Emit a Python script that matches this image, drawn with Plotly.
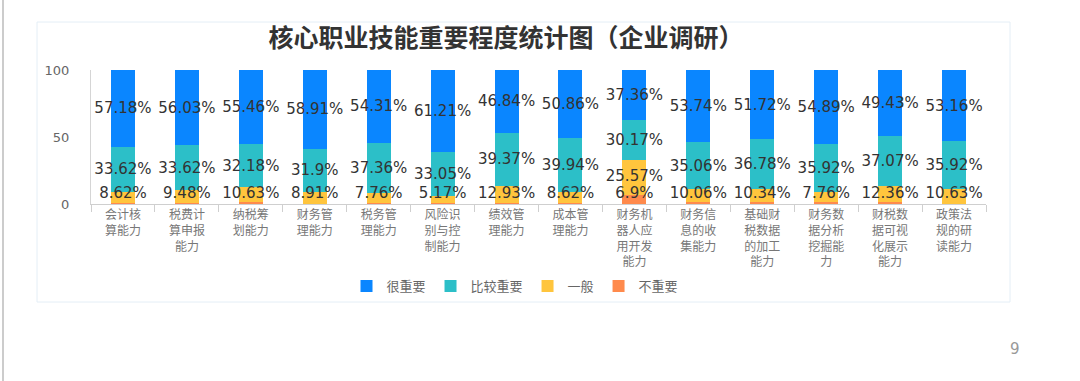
import plotly.graph_objects as go

# ---------------- data ----------------
categories = [
    "会计核算能力", "税费计算申报能力", "纳税筹划能力", "财务管理能力", "税务管理能力",
    "风险识别与控制能力", "绩效管理能力", "成本管理能力", "财务机器人应用开发能力",
    "财务信息的收集能力", "基础财税数据的加工能力", "财务数据分析挖掘能力",
    "财税数据可视化展示能力", "政策法规的研读能力",
]
very_important = [57.18, 56.03, 55.46, 58.91, 54.31, 61.21, 46.84, 50.86, 37.36, 53.74, 51.72, 54.89, 49.43, 53.16]
fairly_important = [33.62, 33.62, 32.18, 31.9, 37.36, 33.05, 39.37, 39.94, 30.17, 35.06, 36.78, 35.92, 37.07, 35.92]
average = [8.62, 9.48, 10.63, 8.91, 7.76, 5.17, 12.93, 8.62, 25.57, 10.06, 10.34, 7.76, 12.36, 10.63]
not_important = [round(100 - a - b - c, 2) for a, b, c in zip(very_important, fairly_important, average)]

series_names = ["很重要", "比较重要", "一般", "不重要"]
colors = ["#0A86FF", "#2CBFC8", "#FFC53D", "#FF8A4C"]
y_ticks = [0, 50, 100]


def wrap(s, n=3):
    return "<br>".join(s[i:i + n] for i in range(0, len(s), n))


x_labels = [wrap(c) for c in categories]


def fmt(v):
    return f"{v:g}%"


label_font = dict(family="DejaVu Sans", size=15, color="#333")

fig = go.Figure()
# stacking order bottom -> top
stack = [
    (series_names[3], not_important, colors[3], None),
    (series_names[2], average, colors[2], None),
    (series_names[1], fairly_important, colors[1], [fmt(v) for v in fairly_important]),
    (series_names[0], very_important, colors[0], [fmt(v) for v in very_important]),
]
for name, vals, col, txt in stack:
    fig.add_trace(go.Bar(
        x=x_labels, y=vals, name=name, marker=dict(color=col, line=dict(width=0)),
        text=txt, textposition="inside" if txt else "none", insidetextanchor="middle",
        textangle=0, constraintext="none", textfont=label_font,
        hoverinfo="skip",
    ))

# labels of the thin bottom segments, kept just above the axis line
MIN_LABEL_Y = 7
bottom_labels = []
for i in range(len(categories)):
    o, a = not_important[i], average[i]
    bottom_labels.append((i, max(o + a / 2, MIN_LABEL_Y), fmt(a)))
    if o >= 5:
        bottom_labels.append((i, max(o / 2, MIN_LABEL_Y), fmt(o)))
fig.add_trace(go.Scatter(
    x=[x_labels[i] for i, _, _ in bottom_labels],
    y=[y for _, y, _ in bottom_labels],
    text=[t for _, _, t in bottom_labels],
    mode="text", textposition="middle center", textfont=label_font,
    showlegend=False, hoverinfo="skip", cliponaxis=False,
))

# ---------------- layout ----------------
L, R, T, B = 91, 94, 70, 177
W, H = 1080, 381
pw, ph = W - L - R, H - T - B


def px(x):
    return (x - L) / pw


def py(y):
    return (H - B - y) / ph


fig.update_layout(
    width=W, height=H,
    margin=dict(l=L, r=R, t=T, b=B),
    paper_bgcolor="white", plot_bgcolor="white",
    barmode="stack", bargap=0.625,
    font=dict(family="Noto Sans CJK SC, DejaVu Sans", color="#666"),
    title=dict(
        text="<b>核心职业技能重要程度统计图（企业调研）</b>",
        x=506 / W, xanchor="center", xref="container",
        y=1 - 38 / H, yanchor="middle",
        font=dict(family="Noto Sans CJK SC", size=25, color="#333"),
    ),
    legend=dict(
        orientation="h", x=px(515), xanchor="center", y=py(286), yanchor="middle",
        font=dict(family="Noto Sans CJK SC", size=13, color="#666"),
        traceorder="reversed", itemclick=False,
    ),
    showlegend=True,
)
fig.update_xaxes(
    type="category", categoryorder="array", categoryarray=x_labels,
    range=[-0.5, len(x_labels) - 0.5],
    showline=True, linecolor="#cfcfcf", linewidth=1,
    ticks="outside", tickson="boundaries", ticklen=7, tickcolor="#cfcfcf",
    tickfont=dict(family="Noto Sans CJK SC", size=12, color="#777"),
    tickangle=0, showgrid=False, fixedrange=True,
)
fig.update_yaxes(
    range=[0, 100], tickvals=y_ticks, ticktext=[str(v) for v in y_ticks],
    showline=True, linecolor="#d5d5d5", linewidth=1, ticks="",
    ticklabelstandoff=18, showgrid=False, zeroline=False,
    tickfont=dict(family="DejaVu Sans", size=13, color="#666"), fixedrange=True,
)

# slide decoration: slide edge, chart frame, page number
fig.add_shape(type="line", xref="paper", yref="paper", x0=px(3), x1=px(3), y0=py(0), y1=py(381),
              line=dict(color="#cccccc", width=2), layer="below")
fig.add_shape(type="rect", xref="paper", yref="paper", x0=px(37), x1=px(1010), y0=py(302), y1=py(22),
              line=dict(color="#e4eef6", width=1), layer="below")
fig.add_annotation(text="9", xref="paper", yref="paper", x=px(1022), y=py(360), showarrow=False,
                   font=dict(family="DejaVu Sans", size=15, color="#999"))

fig.write_html(
    "out.html",
    config={"displayModeBar": False},
    post_script="document.body.style.margin='0';document.body.style.overflow='hidden';",
)
